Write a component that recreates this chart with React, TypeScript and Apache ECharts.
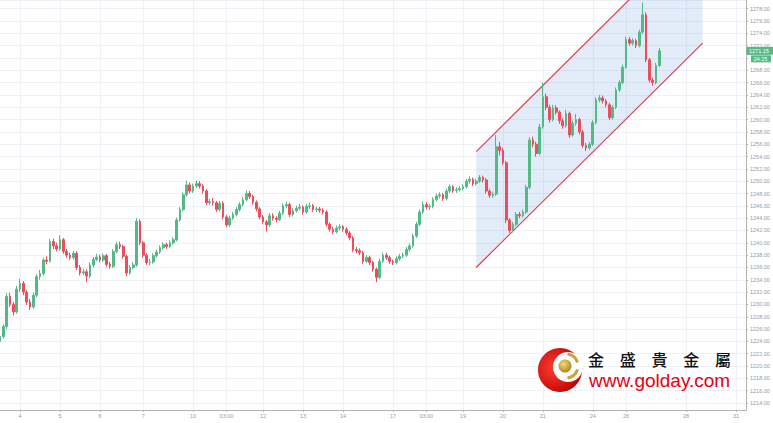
import React, { useEffect, useRef } from "react";
import * as echarts from "echarts";

// ---- data ----
const xTickLabels = ["4", "5", "6", "7", "10", "03:00", "12", "13", "14", "17", "03:00", "19", "20", "21", "24", "26", "28", "31"];
const xTickIdx = [6, 18, 30, 43, 58, 68, 79, 91, 103, 118, 128, 139, 151, 163, 178, 188, 206, 221];
const categoryCount = 225;

// [open, close, low, high]
const candles: number[][] = [
  [1224.0, 1224.8, 1223.6, 1225.2], [1224.8, 1226.4, 1224.5, 1226.8], [1226.4, 1231.3, 1226.0, 1231.8], [1231.3, 1230.0, 1229.6, 1231.9],
  [1230.0, 1228.8, 1228.2, 1230.4], [1228.8, 1232.5, 1228.5, 1233.0], [1232.5, 1233.4, 1232.0, 1234.2], [1233.4, 1232.0, 1231.5, 1233.8],
  [1232.0, 1230.4, 1229.9, 1232.3], [1230.4, 1229.6, 1229.1, 1230.9], [1229.6, 1231.5, 1229.3, 1231.9], [1231.5, 1234.5, 1231.2, 1234.9],
  [1234.5, 1235.0, 1234.0, 1235.6], [1235.0, 1237.2, 1234.7, 1237.6], [1237.2, 1237.0, 1236.5, 1237.8], [1237.0, 1240.2, 1236.8, 1240.6],
  [1240.2, 1239.5, 1239.0, 1240.7], [1239.5, 1239.0, 1238.6, 1240.0], [1239.0, 1240.5, 1238.7, 1241.2], [1240.5, 1238.6, 1238.2, 1240.8],
  [1238.6, 1238.0, 1237.6, 1239.0], [1238.0, 1237.6, 1237.2, 1238.4], [1237.6, 1238.3, 1237.3, 1238.7], [1238.3, 1236.0, 1235.6, 1238.6],
  [1236.0, 1235.1, 1234.7, 1236.4], [1235.1, 1235.3, 1234.8, 1235.8], [1235.3, 1234.6, 1233.6, 1235.7], [1234.6, 1236.4, 1234.3, 1236.8],
  [1236.4, 1237.3, 1236.0, 1237.7], [1237.3, 1237.7, 1237.0, 1238.2], [1237.7, 1237.2, 1236.8, 1238.1], [1237.2, 1237.9, 1236.9, 1238.3],
  [1237.9, 1236.5, 1236.1, 1238.2], [1236.5, 1236.2, 1235.8, 1236.9], [1236.2, 1238.6, 1235.9, 1239.0], [1238.6, 1239.7, 1238.3, 1240.1],
  [1239.7, 1239.4, 1239.0, 1240.2], [1239.4, 1237.8, 1237.4, 1239.7], [1237.8, 1235.1, 1234.6, 1238.1], [1235.1, 1236.0, 1234.8, 1236.4],
  [1236.0, 1236.4, 1235.7, 1236.9], [1236.4, 1243.5, 1236.1, 1244.0], [1243.5, 1240.0, 1239.6, 1243.8], [1240.0, 1238.0, 1237.6, 1240.3],
  [1238.0, 1236.8, 1236.4, 1238.3], [1236.8, 1236.9, 1236.3, 1237.4], [1236.9, 1237.9, 1236.6, 1238.3], [1237.9, 1238.5, 1237.6, 1238.9],
  [1238.5, 1239.2, 1238.2, 1239.6], [1239.2, 1239.7, 1238.9, 1240.1], [1239.7, 1239.4, 1239.0, 1240.0], [1239.4, 1240.0, 1239.1, 1240.4],
  [1240.0, 1240.5, 1239.7, 1240.9], [1240.5, 1243.7, 1240.2, 1244.1], [1243.7, 1245.4, 1243.4, 1245.8], [1245.4, 1247.8, 1245.1, 1248.2],
  [1247.8, 1249.4, 1247.5, 1250.1], [1249.4, 1248.4, 1248.0, 1249.8], [1248.4, 1249.2, 1248.1, 1249.6], [1249.2, 1249.6, 1248.9, 1250.1],
  [1249.6, 1249.2, 1248.8, 1250.0], [1249.2, 1248.4, 1248.0, 1249.5], [1248.4, 1246.5, 1246.1, 1248.7], [1246.5, 1246.7, 1246.1, 1247.1],
  [1246.7, 1246.5, 1246.0, 1247.3], [1246.5, 1245.4, 1245.0, 1246.8], [1245.4, 1246.4, 1245.1, 1246.8], [1246.4, 1244.2, 1243.8, 1246.7],
  [1244.2, 1242.9, 1242.5, 1244.5], [1242.9, 1244.0, 1242.6, 1244.4], [1244.0, 1244.6, 1243.7, 1245.0], [1244.6, 1245.4, 1244.3, 1245.8],
  [1245.4, 1246.2, 1245.1, 1246.6], [1246.2, 1247.0, 1245.9, 1247.4], [1247.0, 1248.0, 1246.7, 1248.5], [1248.0, 1247.5, 1247.1, 1248.4],
  [1247.5, 1246.6, 1246.2, 1247.8], [1246.6, 1245.5, 1245.1, 1246.9], [1245.5, 1244.2, 1243.8, 1245.8], [1244.2, 1243.4, 1243.0, 1244.5],
  [1243.4, 1242.9, 1241.8, 1243.7], [1242.9, 1244.4, 1242.6, 1244.8], [1244.4, 1244.0, 1243.6, 1244.8], [1244.0, 1243.8, 1243.3, 1244.3],
  [1243.8, 1244.8, 1243.5, 1245.2], [1244.8, 1246.0, 1244.5, 1246.4], [1246.0, 1246.2, 1245.6, 1246.7], [1246.2, 1244.6, 1244.2, 1246.5],
  [1244.6, 1245.2, 1244.3, 1245.6], [1245.2, 1245.6, 1244.9, 1246.0], [1245.6, 1245.8, 1245.3, 1246.3], [1245.8, 1245.0, 1244.6, 1246.1],
  [1245.0, 1245.9, 1244.7, 1246.3], [1245.9, 1246.0, 1245.5, 1246.5], [1246.0, 1245.4, 1245.0, 1246.3], [1245.4, 1245.5, 1245.0, 1245.9],
  [1245.5, 1245.3, 1244.9, 1245.8], [1245.3, 1245.0, 1244.6, 1245.6], [1245.0, 1243.0, 1242.6, 1245.3], [1243.0, 1242.2, 1241.8, 1243.3],
  [1242.2, 1241.8, 1241.4, 1242.6], [1241.8, 1242.4, 1241.5, 1242.8], [1242.4, 1242.6, 1242.0, 1243.0], [1242.6, 1242.2, 1241.8, 1242.9],
  [1242.2, 1241.6, 1241.2, 1242.5], [1241.6, 1240.8, 1240.4, 1241.9], [1240.8, 1238.9, 1238.5, 1241.1], [1238.9, 1238.7, 1238.3, 1239.3],
  [1238.7, 1238.4, 1238.0, 1239.1], [1238.4, 1237.0, 1236.6, 1238.7], [1237.0, 1237.6, 1236.7, 1238.0], [1237.6, 1236.8, 1236.4, 1237.9],
  [1236.8, 1235.7, 1235.3, 1237.1], [1235.7, 1234.4, 1233.6, 1236.0], [1234.4, 1237.0, 1234.1, 1237.4], [1237.0, 1238.0, 1236.7, 1238.4],
  [1238.0, 1237.6, 1237.2, 1238.4], [1237.6, 1237.0, 1236.6, 1237.9], [1237.0, 1236.8, 1236.4, 1237.3], [1236.8, 1237.4, 1236.5, 1237.8],
  [1237.4, 1237.8, 1237.1, 1238.2], [1237.8, 1238.0, 1237.5, 1238.4], [1238.0, 1238.9, 1237.7, 1239.3], [1238.9, 1239.5, 1238.6, 1239.9],
  [1239.5, 1241.1, 1239.2, 1241.5], [1241.1, 1243.0, 1240.8, 1243.4], [1243.0, 1245.0, 1242.7, 1245.4], [1245.0, 1246.2, 1244.7, 1246.7],
  [1246.2, 1245.8, 1245.4, 1246.6], [1245.8, 1245.9, 1245.3, 1246.3], [1245.9, 1247.0, 1245.6, 1247.4], [1247.0, 1247.6, 1246.7, 1248.0],
  [1247.6, 1247.8, 1247.2, 1248.2], [1247.8, 1247.2, 1246.8, 1248.1], [1247.2, 1248.4, 1246.9, 1248.8], [1248.4, 1249.1, 1248.1, 1249.5],
  [1249.1, 1248.5, 1248.1, 1249.4], [1248.5, 1248.6, 1248.1, 1249.0], [1248.6, 1248.8, 1248.3, 1249.2], [1248.8, 1249.1, 1248.5, 1249.5],
  [1249.1, 1250.0, 1248.8, 1250.4], [1250.0, 1250.3, 1249.6, 1250.8], [1250.3, 1249.6, 1249.2, 1250.6], [1249.6, 1250.0, 1249.3, 1250.4],
  [1250.0, 1250.6, 1249.7, 1251.0], [1250.6, 1250.2, 1249.8, 1250.9], [1250.2, 1248.4, 1248.0, 1250.5], [1248.4, 1247.7, 1247.3, 1248.7],
  [1247.7, 1247.9, 1247.3, 1248.3], [1247.9, 1255.6, 1247.6, 1257.5], [1255.6, 1255.0, 1254.2, 1256.4], [1255.0, 1253.0, 1252.6, 1255.4],
  [1253.0, 1243.7, 1243.2, 1253.3], [1243.7, 1242.0, 1241.6, 1244.0], [1242.0, 1243.0, 1241.7, 1243.4], [1243.0, 1244.6, 1242.7, 1245.0],
  [1244.6, 1244.4, 1244.0, 1245.0], [1244.4, 1245.0, 1244.1, 1245.4], [1245.0, 1249.0, 1244.7, 1249.4], [1249.0, 1256.7, 1248.7, 1257.1],
  [1256.7, 1256.0, 1255.5, 1257.2], [1256.0, 1254.5, 1254.0, 1256.4], [1254.5, 1258.8, 1254.2, 1259.3], [1258.8, 1263.7, 1258.5, 1266.0],
  [1263.7, 1262.0, 1261.5, 1264.2], [1262.0, 1260.0, 1259.5, 1262.4], [1260.0, 1261.9, 1259.7, 1262.4], [1261.9, 1261.2, 1260.8, 1262.3],
  [1261.2, 1259.8, 1259.3, 1261.5], [1259.8, 1259.0, 1258.5, 1260.2], [1259.0, 1261.0, 1258.7, 1261.6], [1261.0, 1257.5, 1257.0, 1261.3],
  [1257.5, 1259.4, 1257.2, 1259.8], [1259.4, 1260.0, 1259.0, 1260.9], [1260.0, 1258.0, 1257.6, 1260.3], [1258.0, 1255.8, 1255.4, 1258.3],
  [1255.8, 1255.4, 1254.9, 1256.2], [1255.4, 1256.0, 1255.1, 1256.4], [1256.0, 1259.5, 1255.7, 1259.9], [1259.5, 1263.2, 1259.2, 1263.6],
  [1263.2, 1263.5, 1262.8, 1264.0], [1263.5, 1263.0, 1262.6, 1263.9], [1263.0, 1262.4, 1262.0, 1263.3], [1262.4, 1260.3, 1259.9, 1262.7],
  [1260.3, 1262.0, 1260.0, 1262.4], [1262.0, 1264.8, 1261.7, 1265.2], [1264.8, 1266.0, 1264.5, 1266.4], [1266.0, 1268.5, 1265.7, 1268.9],
  [1268.5, 1273.0, 1268.2, 1273.4], [1273.0, 1272.4, 1272.0, 1273.4], [1272.4, 1272.8, 1272.0, 1273.2], [1272.8, 1272.0, 1271.6, 1273.1],
  [1272.0, 1274.2, 1271.7, 1274.6], [1274.2, 1277.0, 1273.9, 1279.0], [1277.0, 1269.7, 1269.3, 1277.4], [1269.7, 1266.4, 1266.0, 1270.0],
  [1266.4, 1266.0, 1265.5, 1266.8], [1266.0, 1268.8, 1265.7, 1269.2], [1268.8, 1271.15, 1268.5, 1271.6],
];

// channel trend lines: [categoryIndex, price]
const channelUpper = [[143, 1254.8], [211, 1291.3]];
const channelLower = [[143, 1236.0], [211, 1272.4]];

const yMin = 1212.87;
const yMax = 1279.4;
const lastPrice = 1271.15;
const hiddenTick = 1270; // covered by the price tag in the reference
const countdown = "24:25";
const brandName = ["金", "盛", "貴", "金", "屬"];
const brandUrl = "www.golday.com";

const UP = "#53b987";
const DOWN = "#eb4d5c";
const GRID = "#eef1f6";
const AXIS = "#b4b4b4";
const LABEL = "#9a9a9a";
const FONT = "'Liberation Sans', Arial, sans-serif";

export default function App() {
  const ref = useRef<HTMLDivElement>(null);
  useEffect(() => {
    if (!ref.current) return;
    const chart = echarts.init(ref.current, undefined, { renderer: "svg" });
    const categories = Array.from({ length: categoryCount }, (_, i) => {
      const k = xTickIdx.indexOf(i);
      return k >= 0 ? xTickLabels[k] : "";
    });
    const showIdx = (i: number) => xTickIdx.indexOf(i) >= 0;

    const option: any = {
      animation: false,
      backgroundColor: "#ffffff",
      grid: { left: 0, right: 27, top: 0, bottom: 13, containLabel: false },
      xAxis: {
        type: "category",
        data: categories,
        boundaryGap: false,
        axisLine: { show: true, lineStyle: { color: AXIS, width: 1 } },
        axisTick: { show: true, length: 2, interval: (i: number) => showIdx(i), lineStyle: { color: AXIS } },
        axisLabel: {
          show: true,
          interval: (i: number) => showIdx(i),
          fontSize: 5.5,
          color: LABEL,
          margin: 3,
          fontFamily: FONT,
        },
        splitLine: { show: true, interval: (i: number) => showIdx(i), lineStyle: { color: GRID, width: 1 } },
      },
      yAxis: {
        type: "value",
        position: "right",
        min: yMin,
        max: yMax,
        splitNumber: 33,
        minInterval: 2,
        maxInterval: 2,
        axisLine: { show: true, lineStyle: { color: AXIS, width: 1 } },
        axisTick: { show: true, length: 2, lineStyle: { color: AXIS } },
        axisLabel: {
          show: true,
          fontSize: 5.5,
          color: LABEL,
          margin: 4,
          fontFamily: FONT,
          showMinLabel: false,
          showMaxLabel: false,
          formatter: (v: number) => (Math.abs(v - hiddenTick) < 0.01 ? "" : v.toFixed(2)),
        },
        splitLine: { show: true, lineStyle: { color: GRID, width: 1 } },
      },
      series: [
        {
          type: "custom",
          z: 1,
          silent: true,
          data: [channelUpper[0]],
          renderItem: (_params: any, api: any) => {
            const u0 = api.coord(channelUpper[0]);
            const u1 = api.coord(channelUpper[1]);
            const l0 = api.coord(channelLower[0]);
            const l1 = api.coord(channelLower[1]);
            return {
              type: "group",
              children: [
                {
                  type: "polygon",
                  shape: { points: [u0, u1, l1, l0] },
                  style: { fill: "rgba(110,160,225,0.2)", stroke: "none", lineWidth: 0 },
                },
                {
                  type: "line",
                  shape: { x1: u0[0], y1: u0[1], x2: u1[0], y2: u1[1] },
                  style: { stroke: "#e8394e", lineWidth: 1.2 },
                },
                {
                  type: "line",
                  shape: { x1: l0[0], y1: l0[1], x2: l1[0], y2: l1[1] },
                  style: { stroke: "#e8394e", lineWidth: 1.2 },
                },
              ],
            };
          },
        },
        {
          type: "candlestick",
          z: 3,
          data: candles,
          barWidth: "65%",
          itemStyle: {
            color: UP,
            color0: DOWN,
            borderColor: UP,
            borderColor0: DOWN,
            borderWidth: 1,
          },
        },
      ],
    };
    chart.setOption(option);

    const py = chart.convertToPixel({ yAxisIndex: 0 }, lastPrice) as number;
    const graphic: any[] = [
      {
        type: "rect",
        z: 100,
        shape: { x: 746.5, y: py - 4, width: 27, height: 8 },
        style: { fill: UP },
      },
      {
        type: "text",
        z: 101,
        x: 749,
        y: py,
        style: { text: lastPrice.toFixed(2), fill: "#ffffff", fontSize: 5.5, fontFamily: FONT, verticalAlign: "middle", align: "left" },
      },
      {
        type: "rect",
        z: 100,
        shape: { x: 751, y: py + 4.5, width: 20, height: 7 },
        style: { fill: UP },
      },
      {
        type: "text",
        z: 101,
        x: 753.5,
        y: py + 8,
        style: { text: countdown, fill: "#ffffff", fontSize: 5.5, fontFamily: FONT, verticalAlign: "middle", align: "left" },
      },
      // logo
      {
        type: "circle",
        z: 50,
        shape: { cx: 560, cy: 370, r: 22 },
        style: {
          fill: new echarts.graphic.RadialGradient(0.35, 0.45, 0.7, [
            { offset: 0, color: "#ff3b2f" },
            { offset: 1, color: "#b80000" },
          ]),
        },
      },
      {
        type: "circle",
        z: 51,
        shape: { cx: 568, cy: 367, r: 15 },
        style: { fill: "#ffffff" },
      },
      {
        type: "arc",
        z: 52,
        shape: { cx: 566, cy: 366, r: 12, startAngle: -1.45, endAngle: -0.3, clockwise: true },
        style: { stroke: "#c9a43a", lineWidth: 3, fill: "none" },
      },
      {
        type: "arc",
        z: 52,
        shape: { cx: 566, cy: 366, r: 12, startAngle: 0.3, endAngle: 1.45, clockwise: true },
        style: { stroke: "#c9a43a", lineWidth: 3, fill: "none" },
      },
      {
        type: "circle",
        z: 52,
        shape: { cx: 565, cy: 366, r: 6.5 },
        style: {
          fill: new echarts.graphic.RadialGradient(0.4, 0.35, 0.7, [
            { offset: 0, color: "#f3da7a" },
            { offset: 1, color: "#a9801d" },
          ]),
        },
      },
      ...brandName.map((ch, i) => ({
        type: "text",
        z: 52,
        x: 596 + i * 31.75,
        y: 359,
        style: {
          text: ch,
          fill: "#111111",
          fontSize: 16,
          fontWeight: 500,
          fontFamily: "'Noto Sans CJK TC', 'Noto Sans CJK SC', sans-serif",
          align: "center",
          verticalAlign: "middle",
        },
      })),
      {
        type: "text",
        z: 52,
        x: 589,
        y: 380,
        style: {
          text: brandUrl,
          fill: "#e60012",
          fontSize: 19,
          fontFamily: FONT,
          align: "left",
          verticalAlign: "middle",
        },
      },
    ];
    chart.setOption({ graphic });

    return () => chart.dispose();
  }, []);

  return (
    <div
      ref={ref}
      style={{ position: "absolute", left: 0, top: 0, width: 773, height: 423, background: "#fff" }}
    />
  );
}
